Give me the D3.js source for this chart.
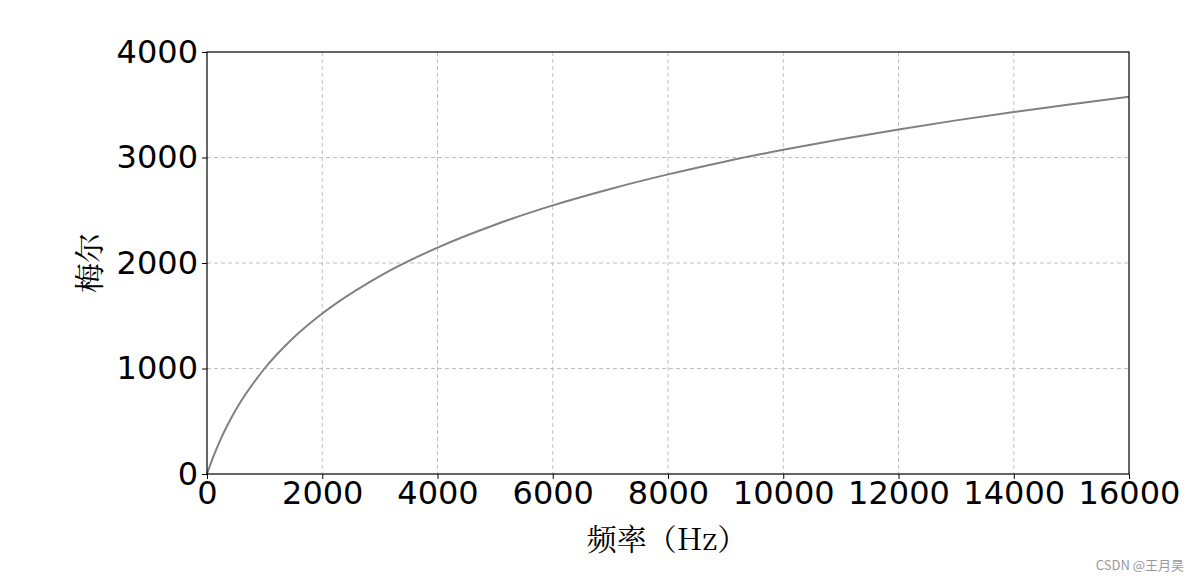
<!DOCTYPE html>
<html><head><meta charset="utf-8">
<script src="https://cdn.jsdelivr.net/npm/d3@7"></script>
<style>body{margin:0;background:#fff}</style></head>
<body><svg id="c" width="1200" height="582"></svg>
<script>
const freqs=[0,50,100,250,500,1000,1500,2000,3000,4000,5000,6000,7000,8000,9000,10000,11000,12000,13000,14000,15000,16000];
const mels=[0,77,150,344,608,1000,1291,1521,1876,2146,2363,2546,2702,2840,2963,3073,3174,3266,3352,3431,3505,3575];
const xTicks=[0,2000,4000,6000,8000,10000,12000,14000,16000];
const yTicks=[0,1000,2000,3000,4000];
const svg=d3.select("#c");
const L=207,R=1129,T=52,B=474;
const x=d3.scaleLinear().domain([0,16000]).range([L,R]);
const y=d3.scaleLinear().domain([0,4000]).range([B,T]);
const g=svg.append("g");
g.selectAll(".gx").data(xTicks.slice(1,-1)).enter().append("line").attr("x1",d=>x(d)).attr("x2",d=>x(d)).attr("y1",T).attr("y2",B).attr("stroke","#c0c0c0").attr("stroke-dasharray","4,3");
g.selectAll(".gy").data(yTicks.slice(1,-1)).enter().append("line").attr("y1",d=>y(d)).attr("y2",d=>y(d)).attr("x1",L).attr("x2",R).attr("stroke","#c0c0c0").attr("stroke-dasharray","4,3");
svg.append("path").datum(freqs.map((f,i)=>[f,mels[i]])).attr("fill","none").attr("stroke","#808080").attr("stroke-width",2)
 .attr("d",d3.line().x(d=>x(d[0])).y(d=>y(d[1])).curve(d3.curveMonotoneX));
const ax=svg.append("g").attr("transform",`translate(0,${B})`).call(d3.axisBottom(x).tickValues(xTicks).tickFormat(d3.format("d")).tickSize(5).tickPadding(2));
const ay=svg.append("g").attr("transform",`translate(${L},0)`).call(d3.axisLeft(y).tickValues(yTicks).tickFormat(d3.format("d")).tickSize(5).tickPadding(4));
[ax,ay].forEach(a=>{a.selectAll("text").attr("font-family","DejaVu Sans").attr("font-size",32).attr("fill","#000");a.select(".domain").remove();a.selectAll("line").attr("stroke","#000");});
svg.append("rect").attr("x",L).attr("y",T).attr("width",R-L).attr("height",B-T).attr("fill","none").attr("stroke","#000").attr("stroke-width",1.2);
svg.append("text").attr("x",667).attr("y",550).attr("text-anchor","middle").attr("font-family","Noto Serif CJK SC, Noto Sans CJK SC").attr("font-size",30).text("频率（Hz）");
svg.append("text").attr("transform","translate(100,263) rotate(-90)").attr("text-anchor","middle").attr("font-family","Noto Serif CJK SC, Noto Sans CJK SC").attr("font-size",30).text("梅尔");
svg.append("text").attr("x",1184).attr("y",570).attr("text-anchor","end").attr("font-family","Noto Sans CJK SC").attr("font-size",13).attr("fill","#999").text("CSDN @王月昊");
</script></body></html>
